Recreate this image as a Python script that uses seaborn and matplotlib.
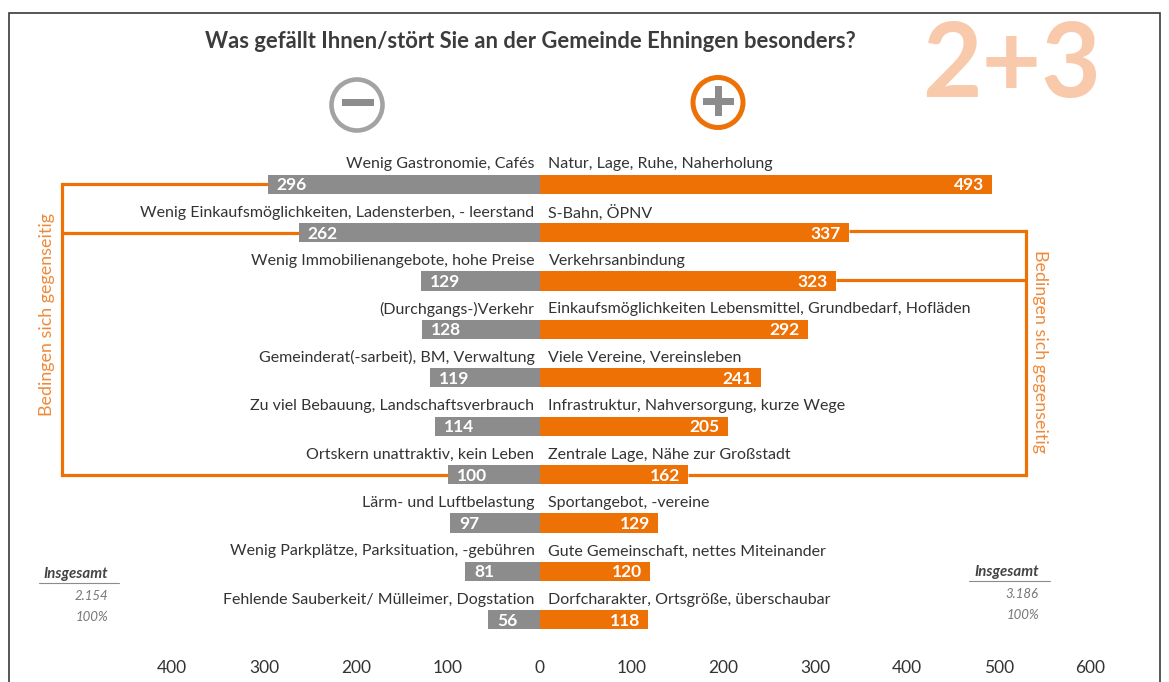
import matplotlib
matplotlib.use("Agg")
import matplotlib.pyplot as plt
from matplotlib.patches import Circle, Rectangle
import pandas as pd
import seaborn as sns

neg_labels = ["Wenig Gastronomie, Cafés", "Wenig Einkaufsmöglichkeiten, Ladensterben, - leerstand",
              "Wenig Immobilienangebote, hohe Preise", "(Durchgangs-)Verkehr",
              "Gemeinderat(-sarbeit), BM, Verwaltung", "Zu viel Bebauung, Landschaftsverbrauch",
              "Ortskern unattraktiv, kein Leben", "Lärm- und Luftbelastung",
              "Wenig Parkplätze, Parksituation, -gebühren", "Fehlende Sauberkeit/ Mülleimer, Dogstation"]
neg_values = [296, 262, 129, 128, 119, 114, 100, 97, 81, 56]
pos_labels = ["Natur, Lage, Ruhe, Naherholung", "S-Bahn, ÖPNV", "Verkehrsanbindung",
              "Einkaufsmöglichkeiten Lebensmittel, Grundbedarf, Hofläden", "Viele Vereine, Vereinsleben",
              "Infrastruktur, Nahversorgung, kurze Wege", "Zentrale Lage, Nähe zur Großstadt",
              "Sportangebot, -vereine", "Gute Gemeinschaft, nettes Miteinander",
              "Dorfcharakter, Ortsgröße, überschaubar"]
pos_values = [493, 337, 323, 292, 241, 205, 162, 129, 120, 118]
axis_ticks = [-400, -300, -200, -100, 0, 100, 200, 300, 400, 500, 600]
title = "Was gefällt Ihnen/stört Sie an der Gemeinde Ehningen besonders?"
side_note = "Bedingen sich gegenseitig"
total_neg = "2.154"
total_pos = "3.186"

ORANGE = "#ee7106"
GREY = "#8c8c8c"
TEXT = "#333333"
W, H = 1169, 682
PX_PER_UNIT = 0.9185
ROW = 48.4
FIRST = 184.2
AX_H = 652

sns.set_theme(style="white")
plt.rcParams["font.family"] = ["Lato", "DejaVu Sans"]

fig = plt.figure(figsize=(W / 100, H / 100), dpi=100)
ax = fig.add_axes([0, 1 - AX_H / H, 1, AX_H / H])

rows = list(range(len(neg_values)))
df = pd.DataFrame({
    "row": rows + rows,
    "value": [-v for v in neg_values] + pos_values,
    "side": ["neg"] * len(rows) + ["pos"] * len(rows),
})
sns.barplot(data=df, x="value", y="row", hue="side", orient="h", dodge=False, width=0.4,
            palette={"neg": GREY, "pos": ORANGE}, saturation=1, legend=False, linewidth=0,
            edgecolor="none", ax=ax)

ax.set_xlim(-539.5 / PX_PER_UNIT, (W - 539.5) / PX_PER_UNIT)
ax.set_ylim((AX_H - FIRST) / ROW, -FIRST / ROW)
ax.set_xticks(axis_ticks)
ax.set_xticklabels([str(abs(t)) for t in axis_ticks], fontsize=12.5, color=TEXT)
ax.tick_params(axis="x", length=0, pad=6)
ax.set_yticks([])
ax.set_xlabel("")
ax.set_ylabel("")
ax.patch.set_alpha(0)
sns.despine(ax=ax, left=True, bottom=True)

for i in rows:
    ax.annotate(neg_labels[i], (0, i), xytext=(-5, 20), textcoords="offset pixels",
                ha="right", va="center", fontsize=11.5, color=TEXT)
    ax.annotate(pos_labels[i], (0, i), xytext=(9, 20), textcoords="offset pixels",
                ha="left", va="center", fontsize=11.5, color=TEXT)
    ax.annotate(str(neg_values[i]), (-neg_values[i], i), xytext=(9, -1), textcoords="offset pixels",
                ha="left", va="center", fontsize=12.5, fontweight="bold", color="white")
    ax.annotate(str(pos_values[i]), (pos_values[i], i), xytext=(-8, -1), textcoords="offset pixels",
                ha="right", va="center", fontsize=12.5, fontweight="bold", color="white")

# brackets
left_x, right_x = -520, 530
for i in (0, 1, 6):
    ax.plot([left_x, -neg_values[i]], [i, i], color=ORANGE, lw=2.3, solid_capstyle="butt", zorder=1)
ax.plot([left_x, left_x], [0, 6], color=ORANGE, lw=2.3, solid_capstyle="projecting", zorder=1)
for i in (1, 2, 6):
    ax.plot([pos_values[i], right_x], [i - 0.03, i - 0.03] if i < 6 else [i, i], color=ORANGE, lw=2.3,
            solid_capstyle="butt", zorder=1)
ax.plot([right_x, right_x], [1 - 0.03, 6], color=ORANGE, lw=2.3, solid_capstyle="projecting", zorder=1)

# overlay in pixel coordinates for the page furniture
ov = fig.add_axes([0, 0, 1, 1])
ov.set_xlim(0, W)
ov.set_ylim(H, 0)
ov.axis("off")
ov.patch.set_alpha(0)

ov.plot([9, 9, 1160, 1160], [H, 12.5, 12.5, H], color="#3a3a3a", lw=1.2, solid_joinstyle="miter")
ov.text(530, 41, title, ha="center", va="center", fontsize=15.8, fontweight="bold", color="#3c3c3c")
ov.text(1012, 67, "2+3", ha="center", va="center", fontsize=74, fontweight="bold", color="#f9c9ac")

ov.add_patch(Circle((357, 105), 25.5, fill=False, ec="#a3a3a3", lw=3.3))
ov.add_patch(Rectangle((342, 99), 32, 7, fc=GREY, ec="none"))
ov.add_patch(Circle((718, 102.5), 25, fill=False, ec=ORANGE, lw=3.6))
ov.add_patch(Rectangle((703, 98), 31, 7, fc=GREY, ec="none"))
ov.add_patch(Rectangle((715, 86), 7, 30, fc=GREY, ec="none"))

ov.text(47, 315, side_note, rotation=90, ha="center", va="center", fontsize=12.9, color="#ef8a3a")
ov.text(1040, 351, side_note, rotation=270, ha="center", va="center", fontsize=12.9, color="#ef8a3a")

for x_r, x0, x1, y, total in ((108, 39, 119, 574, total_neg), (1039, 969, 1050, 572, total_pos)):
    ov.text(x_r, y, "Insgesamt", ha="right", va="center", fontsize=10.8, fontweight="bold",
            fontstyle="italic", color="#444444")
    ov.plot([x0, x1], [y + 9, y + 9], color="#8c8c8c", lw=0.8)
    ov.text(x_r, y + 22, total, ha="right", va="center", fontsize=9.5, fontstyle="italic", color="#777777")
    ov.text(x_r, y + 43, "100%", ha="right", va="center", fontsize=9.5, fontstyle="italic", color="#777777")

fig.savefig("out.png", dpi=100)
